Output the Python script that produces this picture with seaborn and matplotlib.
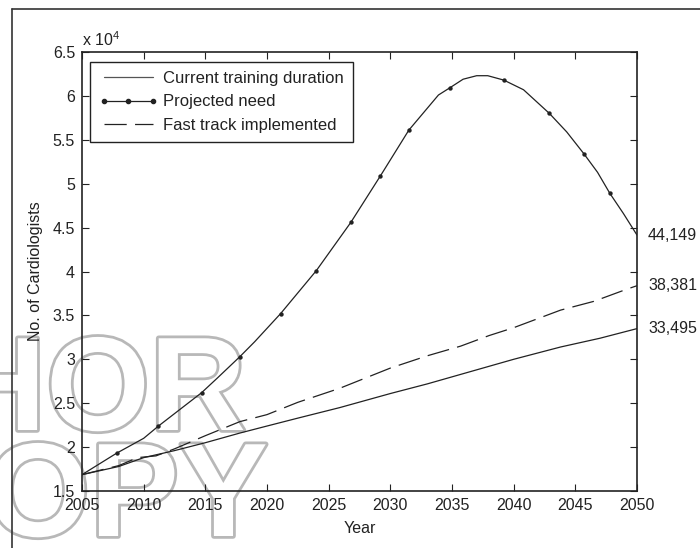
import matplotlib
matplotlib.use('Agg')
import pandas as pd
import matplotlib.pyplot as plt
import seaborn as sns
from matplotlib.lines import Line2D
from matplotlib import patheffects
from matplotlib.ticker import FuncFormatter, MultipleLocator

# Values
track_years = [2005, 2008, 2010, 2012.5, 2015, 2017.8, 2020, 2022.5, 2025.9, 2030,
               2033, 2036.5, 2040, 2043.8, 2047, 2050]
current_training = [16860, 17800, 18800, 19600, 20500, 21600, 22400, 23300, 24500, 26100,
                    27200, 28600, 30000, 31400, 32400, 33495]

fast_years = [2005, 2008, 2009.5, 2011, 2012.5, 2015, 2017.8, 2020, 2022.5, 2025.9, 2030,
              2033, 2035.7, 2038, 2040, 2043.8, 2046.5, 2049.2, 2050]
fast_track = [16860, 17900, 18800, 19000, 19800, 21300, 22900, 23700, 25100, 26700, 29000,
              30400, 31500, 32700, 33600, 35600, 36600, 38000, 38381]

need_years = [2005, 2007.8, 2010, 2011.2, 2014.7, 2016.0, 2017.8, 2019.0, 2021.1, 2024.0,
              2026.8, 2029.2, 2031.5, 2033.9, 2034.8, 2035.9, 2037.0, 2037.9, 2039.2,
              2040.8, 2042.9, 2044.3, 2045.7, 2046.8, 2047.8, 2048.9, 2050]
projected_need = [16860, 19300, 21000, 22400, 26200, 27900, 30300, 32000, 35200, 40100,
                  45600, 50900, 56100, 60100, 60900, 61900, 62300, 62300, 61800,
                  60700, 58000, 55900, 53400, 51300, 48900, 46600, 44149]

marker_years = [2007.8, 2011.2, 2014.7, 2017.8, 2021.1, 2024.0, 2026.8, 2029.2, 2031.5,
                2034.8, 2039.2, 2042.9, 2045.7, 2047.8]
marker_need = [19300, 22400, 26200, 30300, 35200, 40100, 45600, 50900, 56100,
               60900, 61800, 58000, 53400, 48900]

labels = ['Current training duration', 'Projected need', 'Fast track implemented']

sns.set_style('ticks')
plt.rcParams['font.family'] = ['Liberation Sans', 'DejaVu Sans']
plt.rcParams['mathtext.default'] = 'regular'
plt.rcParams['lines.scale_dashes'] = False

ink = '#222222'
dash = (0, (16, 6))
fs = 11.5

fig = plt.figure(figsize=(7, 5.48), dpi=100)
ax = fig.add_axes([82 / 700, 1 - 491 / 548, 555 / 700, 439 / 548])
ax.patch.set_alpha(0)

current_df = pd.DataFrame({'Year': track_years, 'Cardiologists': current_training})
fast_df = pd.DataFrame({'Year': fast_years, 'Cardiologists': fast_track})
need_df = pd.DataFrame({'Year': need_years, 'Cardiologists': projected_need})
marker_df = pd.DataFrame({'Year': marker_years, 'Cardiologists': marker_need})

sns.lineplot(data=current_df, x='Year', y='Cardiologists', ax=ax, color=ink,
             lw=0.9, estimator=None, sort=False)
sns.lineplot(data=fast_df, x='Year', y='Cardiologists', ax=ax, color=ink,
             lw=0.9, linestyle=dash, estimator=None, sort=False)
sns.lineplot(data=need_df, x='Year', y='Cardiologists', ax=ax, color=ink,
             lw=0.9, estimator=None, sort=False)
sns.scatterplot(data=marker_df, x='Year', y='Cardiologists', ax=ax, color=ink,
                s=10, linewidth=0, zorder=3)

ax.set_xlim(2005, 2050)
ax.set_ylim(15000, 65000)
ax.xaxis.set_major_locator(MultipleLocator(5))
ax.yaxis.set_major_locator(MultipleLocator(5000))
ax.yaxis.set_major_formatter(FuncFormatter(lambda v, _: f'{v / 1e4:g}'))
ax.tick_params(direction='in', top=True, right=True, length=5, width=0.8,
               labelsize=fs, colors=ink, pad=5)
for s in ax.spines.values():
    s.set_visible(True)
    s.set_linewidth(1.2)
    s.set_color(ink)

ax.set_xlabel('Year', fontsize=fs, color=ink, labelpad=6)
ax.set_ylabel('No. of Cardiologists', fontsize=fs, color=ink, labelpad=7)
ax.text(0, 1.0137, r'x 10$^4$', transform=ax.transAxes, ha='left', va='baseline',
        fontsize=fs, color=ink)

# end values on the right
for series in (projected_need, fast_track, current_training):
    ax.annotate(f'{series[-1]:,}', xy=(2050, series[-1]), xytext=(8, 0),
                textcoords='offset points', ha='left', va='center',
                fontsize=fs, color=ink, annotation_clip=False)

handles = [Line2D([], [], color='#555555', lw=0.9),
           Line2D([], [], color=ink, lw=0.9, marker='o', ms=3),
           Line2D([], [], color=ink, lw=0.9, linestyle=dash)]
leg = ax.legend(handles, labels, loc='upper left', bbox_to_anchor=(8 / 555, 1 - 10 / 439),
                borderaxespad=0, fancybox=False, edgecolor=ink, framealpha=1,
                fontsize=12, handlelength=3.5, handletextpad=0.35, labelspacing=0.5,
                numpoints=3, borderpad=0.55)
leg.get_frame().set_linewidth(1.0)
for t in leg.get_texts():
    t.set_color(ink)

# page frame and watermark
fig.add_artist(Line2D([12 / 700, 12 / 700], [0, 1 - 9 / 548], transform=fig.transFigure,
                      color='#333333', lw=1.2))
fig.add_artist(Line2D([12 / 700, 1], [1 - 9 / 548, 1 - 9 / 548], transform=fig.transFigure,
                      color='#333333', lw=1.2))
wm = [patheffects.withStroke(linewidth=4, foreground='#b8b8b8')]
fig.text(246 / 700, 1 - 430 / 548, 'AUTHOR', ha='right', va='baseline', fontsize=96,
         fontweight='bold', color='white', zorder=-1, path_effects=wm)
fig.text(268 / 700, 1 - 536 / 548, 'COPY', ha='right', va='baseline', fontsize=96,
         fontweight='bold', color='white', zorder=-1, path_effects=wm)

fig.savefig('out.png', dpi=100)
